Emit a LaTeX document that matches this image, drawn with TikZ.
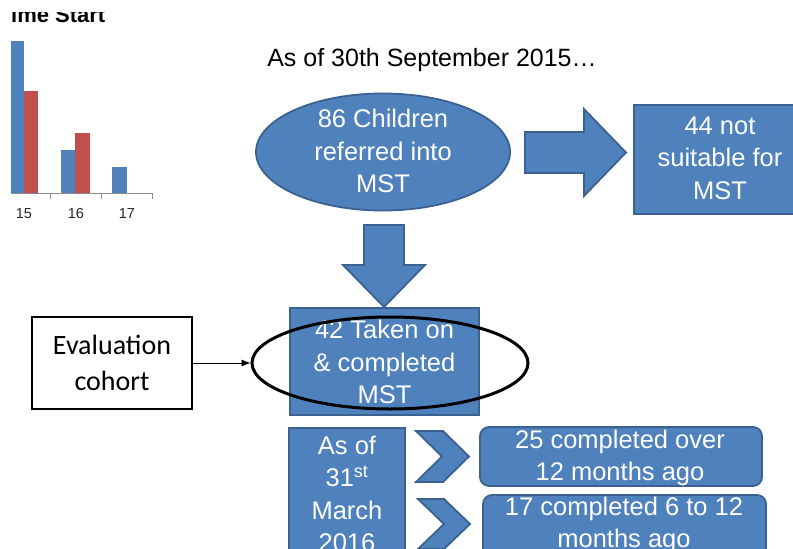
\documentclass[tikz,border=0pt]{standalone}
\usepackage{fontspec}
\setmainfont{Liberation Sans}
\newfontfamily\calib{Carlito}
\usetikzlibrary{shapes.geometric,arrows.meta}
\definecolor{fillblue}{HTML}{4F81BD}
\definecolor{edgeblue}{HTML}{3A6190}
\definecolor{barred}{HTML}{C0504D}
\definecolor{axisgray}{HTML}{8C8C8C}
\begin{document}
\begin{tikzpicture}[x=1pt,y=-1pt,
  bluefill/.style={fill=fillblue, draw=edgeblue, line width=1.8pt},
  bluetext/.style={text=white, font=\fontsize{25.5}{32.5}\selectfont, align=center, inner sep=0pt},
  bluebox/.style={bluefill, bluetext},
  axislabel/.style={font=\fontsize{14.5}{16}\selectfont, text=black!85},
]
\useasboundingbox (0,0) rectangle (793,549);
\clip (0,0) rectangle (793,549);

% cut-off chart title
\begin{scope}
\clip (0,12.5) rectangle (200,40);
\node[anchor=base west, inner sep=0pt, font=\bfseries\fontsize{22}{26}\selectfont] (charttitle) at (11,22) {ime Start};
\end{scope}

% bar chart
\fill[fillblue] (11,193) rectangle (24,41);
\fill[barred] (24,193) rectangle (38,91);
\fill[fillblue] (61,193) rectangle (75,150);
\fill[barred] (75,193) rectangle (90,133);
\fill[fillblue] (112,193) rectangle (127,167);
\draw[axisgray, line width=1pt] (11,193) -- (152,193);
\foreach \xx in {50,101,152} \draw[axisgray, line width=1pt] (\xx,193) -- (\xx,199);
\node[axislabel] (l15) at (24,214) {15};
\node[axislabel] (l16) at (76,214) {16};
\node[axislabel] (l17) at (127,214) {17};

% heading
\node[anchor=base, inner sep=0pt, font=\fontsize{25}{30}\selectfont] (heading) at (432,66) {As of 30th September 2015…};

% referred ellipse
\node[ellipse, bluebox, minimum width=254, minimum height=117] (ref) at (383,152) {};
\node[bluetext] (reftext) at (383,151) {86 Children\\referred into\\MST};

% right block arrow
\filldraw[bluefill] (525,132) -- (584,132) -- (584,109) -- (626,152.5) -- (584,196) -- (584,173) -- (525,173) -- cycle;

% not suitable box
\node[rectangle, bluebox, minimum width=172, minimum height=109] (notsuit) at (720,159.5) {};
\node[bluetext] (notsuittext) at (720,158) {44 not\\suitable for\\MST};

% down block arrow
\filldraw[bluefill] (364,225) -- (404,225) -- (404,265) -- (425,265) -- (384,307) -- (343,265) -- (364,265) -- cycle;

% taken-on box
\node[rectangle, bluebox, minimum width=189, minimum height=107] (taken) at (384.5,361.5) {};
\node[bluetext] (takentext) at (384.5,362) {42 Taken on\\\& completed\\MST};

% black ellipse
\node[ellipse, draw=black, line width=3pt, minimum width=276, minimum height=92] (cohortell) at (390,363) {};

% evaluation box
\node[rectangle, draw=black, line width=2.5pt, fill=white, minimum width=160, minimum height=92, align=center, font=\calib\fontsize{28}{36}\selectfont, inner sep=0pt] (evalbox) at (112,363) {Evaluation\\cohort};
\draw[-{Latex[length=9pt,width=7pt]}, line width=0.8pt] (evalbox.east) -- (cohortell.west);

% as-of box
\node[rectangle, bluefill, minimum width=116, minimum height=140, anchor=north] (asof) at (347,427) {};
\node[bluetext] (asoftext) at (347,494) {As of\\31\textsuperscript{st}\\March\\2016};

% chevrons
\filldraw[bluefill] (416,431) -- (443,431) -- (469,456.5) -- (443,482) -- (416,482) -- (442,456.5) -- cycle;
\filldraw[bluefill] (418,499) -- (444,499) -- (470,524) -- (444,549) -- (418,549) -- (444,524) -- cycle;

% result boxes
\node[rectangle, rounded corners=9pt, bluefill, minimum width=282, minimum height=59] (over12) at (621,456.5) {};
\node[bluetext] (over12text) at (620,458) {25 completed over\\12 months ago};
\node[rectangle, rounded corners=9pt, bluefill, minimum width=283, minimum height=70] (six12) at (624.5,530) {};
\node[bluetext] (six12text) at (624,525) {17 completed 6 to 12\\months ago};
\end{tikzpicture}
\end{document}
